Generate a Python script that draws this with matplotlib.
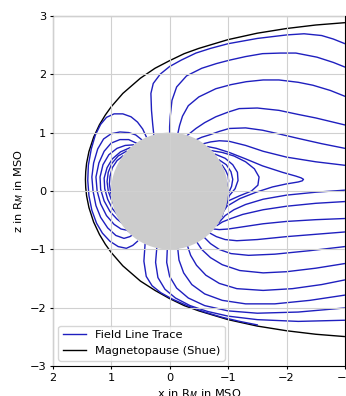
import matplotlib.pyplot as plt
from matplotlib.lines import Line2D
from matplotlib.patches import Circle

# magnetopause (Shue), x and z in R_M (MSO)
mp_x = [-3.0, -2.5, -2.0, -1.5, -1.0, -0.5, -0.25, 0.0, 0.25, 0.5, 0.8, 1.0, 1.1, 1.2, 1.3,
        1.38, 1.42, 1.435, 1.44, 1.435, 1.42, 1.38, 1.3, 1.2, 1.1, 1.0, 0.8, 0.5, 0.25,
        0.0, -0.25, -0.5, -1.0, -1.5, -2.0, -2.5, -3.0]
mp_z = [2.88, 2.84, 2.78, 2.70, 2.59, 2.44, 2.35, 2.23, 2.10, 1.93, 1.67, 1.44, 1.30, 1.135, 0.92,
        0.675, 0.476, 0.334, 0.196, 0.058, -0.084, -0.283, -0.53, -0.743, -0.91, -1.05, -1.28, -1.54, -1.70,
        -1.84, -1.96, -2.05, -2.20, -2.31, -2.39, -2.45, -2.49]

# closed dayside loops, outermost first
dayside_loops = [
    ([0.40, 0.46, 0.55, 0.66, 0.80, 0.95, 1.08, 1.18, 1.27, 1.34, 1.39, 1.40, 1.38, 1.33, 1.25, 1.15, 1.02, 0.88, 0.74, 0.63, 0.55],
     [0.93, 1.06, 1.18, 1.27, 1.32, 1.32, 1.26, 1.14, 0.96, 0.72, 0.44, 0.18, -0.08, -0.33, -0.55, -0.72, -0.86, -0.95, -0.98, -0.93, -0.86]),
    ([0.48, 0.58, 0.70, 0.85, 1.00, 1.13, 1.23, 1.30, 1.33, 1.31, 1.26, 1.18, 1.06, 0.92, 0.78, 0.68, 0.62],
     [0.88, 0.96, 1.00, 1.01, 0.98, 0.89, 0.72, 0.48, 0.24, 0.00, -0.25, -0.45, -0.63, -0.76, -0.81, -0.78, -0.74]),
    ([0.57, 0.70, 0.85, 1.00, 1.12, 1.21, 1.26, 1.24, 1.18, 1.08, 0.95, 0.83, 0.73, 0.68],
     [0.82, 0.88, 0.88, 0.82, 0.68, 0.48, 0.24, 0.00, -0.22, -0.42, -0.57, -0.65, -0.67, -0.70]),
    ([0.62, 0.76, 0.90, 1.04, 1.14, 1.19, 1.18, 1.12, 1.02, 0.90, 0.80, 0.74],
     [0.79, 0.78, 0.73, 0.62, 0.45, 0.24, 0.03, -0.17, -0.35, -0.48, -0.56, -0.62]),
    ([0.68, 0.84, 0.98, 1.07, 1.12, 1.11, 1.06, 0.98, 0.88, 0.80],
     [0.74, 0.67, 0.55, 0.40, 0.22, 0.04, -0.14, -0.30, -0.42, -0.52]),
    ([0.74, 0.88, 0.99, 1.05, 1.07, 1.05, 1.00, 0.94, 0.90],
     [0.68, 0.60, 0.47, 0.32, 0.16, 0.00, -0.14, -0.26, -0.38]),
    ([0.80, 0.90, 0.98, 1.02, 1.03, 1.01, 0.97, 0.93],
     [0.60, 0.52, 0.40, 0.25, 0.12, -0.02, -0.15, -0.28]),
]

# northern lobe lines running down the tail
north_lobe = [
    ([0.27, 0.29, 0.31, 0.32, 0.28, 0.16, 0.0, -0.2, -0.45, -0.7, -1.0, -1.5, -2.0, -2.3, -2.6, -2.8, -3.0],
     [0.96, 1.15, 1.38, 1.67, 1.84, 2.00, 2.13, 2.24, 2.36, 2.44, 2.52, 2.61, 2.67, 2.69, 2.66, 2.60, 2.52]),
    ([0.0, 0.0, -0.01, -0.04, -0.12, -0.29, -0.55, -0.8, -1.03, -1.3, -1.59, -1.9, -2.16, -2.52, -2.8, -3.0],
     [0.98, 1.10, 1.27, 1.55, 1.78, 1.97, 2.10, 2.18, 2.24, 2.30, 2.35, 2.36, 2.36, 2.29, 2.20, 2.12]),
    ([-0.14, -0.17, -0.22, -0.32, -0.5, -0.79, -1.05, -1.31, -1.6, -1.87, -2.2, -2.45, -2.75, -3.0],
     [0.98, 1.12, 1.28, 1.46, 1.61, 1.75, 1.82, 1.87, 1.90, 1.90, 1.86, 1.81, 1.72, 1.62]),
    ([-0.3, -0.45, -0.6, -0.79, -1.0, -1.19, -1.5, -1.87, -2.2, -2.5, -3.0],
     [0.95, 1.07, 1.17, 1.27, 1.35, 1.41, 1.42, 1.38, 1.31, 1.25, 1.13]),
    ([-0.46, -0.55, -0.68, -0.85, -1.02, -1.3, -1.59, -1.9, -2.2, -2.6, -3.0],
     [0.88, 0.92, 0.96, 1.02, 1.07, 1.08, 1.04, 0.97, 0.90, 0.81, 0.73]),
    ([-0.58, -0.7, -0.85, -1.02, -1.3, -1.6, -2.0, -2.5, -3.0],
     [0.81, 0.84, 0.86, 0.85, 0.78, 0.68, 0.58, 0.50, 0.44]),
]

# closed nightside loops, outermost first
tail_loops = [
    ([-0.65, -0.8, -1.02, -1.3, -1.59, -1.93, -2.16, -2.25, -2.29, -2.27, -2.2, -1.99, -1.76, -1.48, -1.2, -0.98, -0.89, -0.84],
     [0.76, 0.73, 0.66, 0.55, 0.43, 0.32, 0.255, 0.225, 0.20, 0.175, 0.155, 0.12, 0.07, -0.02, -0.13, -0.26, -0.40, -0.54]),
    ([-0.72, -0.9, -1.1, -1.3, -1.45, -1.53, -1.51, -1.4, -1.2, -1.0, -0.93, -0.9],
     [0.69, 0.66, 0.60, 0.50, 0.38, 0.24, 0.10, 0.00, -0.08, -0.17, -0.30, -0.43]),
    ([-0.78, -0.95, -1.08, -1.16, -1.17, -1.12, -1.02, -0.96],
     [0.63, 0.56, 0.45, 0.32, 0.18, 0.04, -0.08, -0.28]),
    ([-0.85, -0.97, -1.05, -1.08, -1.06, -1.01, -0.98],
     [0.53, 0.45, 0.33, 0.20, 0.08, -0.03, -0.15]),
    ([-0.9, -0.96, -1.0, -1.01, -0.99],
     [0.44, 0.35, 0.26, 0.17, 0.08]),
]

# southern lobe lines, from the tail centre outwards
south_lobe = [
    ([-0.85, -0.95, -1.1, -1.3, -1.6, -2.0, -2.5, -3.0],
     [-0.53, -0.42, -0.32, -0.23, -0.14, -0.07, -0.02, 0.015]),
    ([-0.81, -0.9, -1.05, -1.25, -1.6, -2.0, -2.5, -3.0],
     [-0.59, -0.53, -0.47, -0.40, -0.32, -0.26, -0.21, -0.18]),
    ([-0.76, -0.85, -1.0, -1.2, -1.6, -2.0, -2.5, -3.0],
     [-0.65, -0.66, -0.65, -0.62, -0.56, -0.52, -0.49, -0.47]),
    ([-0.69, -0.8, -0.95, -1.15, -1.5, -2.0, -2.5, -3.0],
     [-0.72, -0.78, -0.83, -0.85, -0.83, -0.78, -0.74, -0.70]),
    ([-0.6, -0.7, -0.85, -1.05, -1.35, -1.8, -2.4, -3.0],
     [-0.80, -0.90, -1.00, -1.07, -1.10, -1.08, -1.02, -0.95]),
    ([-0.47, -0.55, -0.7, -0.9, -1.2, -1.6, -2.0, -2.5, -3.0],
     [-0.88, -1.00, -1.14, -1.26, -1.36, -1.40, -1.38, -1.32, -1.24]),
    ([-0.31, -0.36, -0.46, -0.62, -0.85, -1.15, -1.6, -2.1, -2.6, -3.0],
     [-0.95, -1.10, -1.27, -1.44, -1.58, -1.67, -1.70, -1.67, -1.60, -1.52]),
    ([-0.14, -0.16, -0.24, -0.38, -0.6, -0.9, -1.3, -1.8, -2.4, -3.0],
     [-0.99, -1.18, -1.40, -1.60, -1.76, -1.87, -1.93, -1.93, -1.87, -1.78]),
    ([0.04, 0.05, 0.0, -0.12, -0.32, -0.6, -1.0, -1.5, -2.2, -3.0],
     [-1.00, -1.22, -1.46, -1.66, -1.83, -1.96, -2.05, -2.09, -2.07, -2.00]),
    ([0.22, 0.24, 0.20, 0.08, -0.1, -0.35, -0.65, -1.0, -1.5, -2.2, -3.0],
     [-0.98, -1.22, -1.48, -1.68, -1.83, -1.96, -2.06, -2.14, -2.20, -2.23, -2.21]),
    ([0.42, 0.44, 0.40, 0.30, 0.15, -0.05, -0.3, -0.6, -0.9, -1.2, -1.5],
     [-0.91, -1.20, -1.46, -1.62, -1.74, -1.85, -1.96, -2.07, -2.16, -2.23, -2.29]),
]

line_col = '#1f1fbf'

plt.rcParams['font.size'] = 8.2

fig = plt.figure(figsize=(3.46, 3.96), dpi=100)
ax = fig.add_axes([0.1523, 0.074, 0.8448, 0.8872])

ax.plot(mp_x, mp_z, color='black', lw=1.0, zorder=2)
for fam in (dayside_loops, north_lobe, tail_loops, south_lobe):
    for xs, zs in fam:
        ax.plot(xs, zs, color=line_col, lw=1.0, zorder=2.05)

ax.add_patch(Circle((0, 0), 1, facecolor='#cccccc', edgecolor='none', zorder=2.2))

ax.set_xlim(2, -3)
ax.set_ylim(-3, 3)
ax.set_aspect('equal')
ax.set_xticks([2, 1, 0, -1, -2, -3])
ax.set_yticks([-3, -2, -1, 0, 1, 2, 3])
ax.tick_params(length=2.5, pad=2)
ax.set_axisbelow(False)
ax.grid(True, color='#d0d0d0', lw=0.8)
ax.set_xlabel('x in R$_M$ in MSO', labelpad=3)
ax.set_ylabel('z in R$_M$ in MSO', labelpad=3)

legend_els = [Line2D([], [], color=line_col, lw=1.0, label='Field Line Trace'),
              Line2D([], [], color='black', lw=1.0, label='Magnetopause (Shue)')]
ax.legend(handles=legend_els, loc='lower left')

fig.savefig('out.png', dpi=100)
